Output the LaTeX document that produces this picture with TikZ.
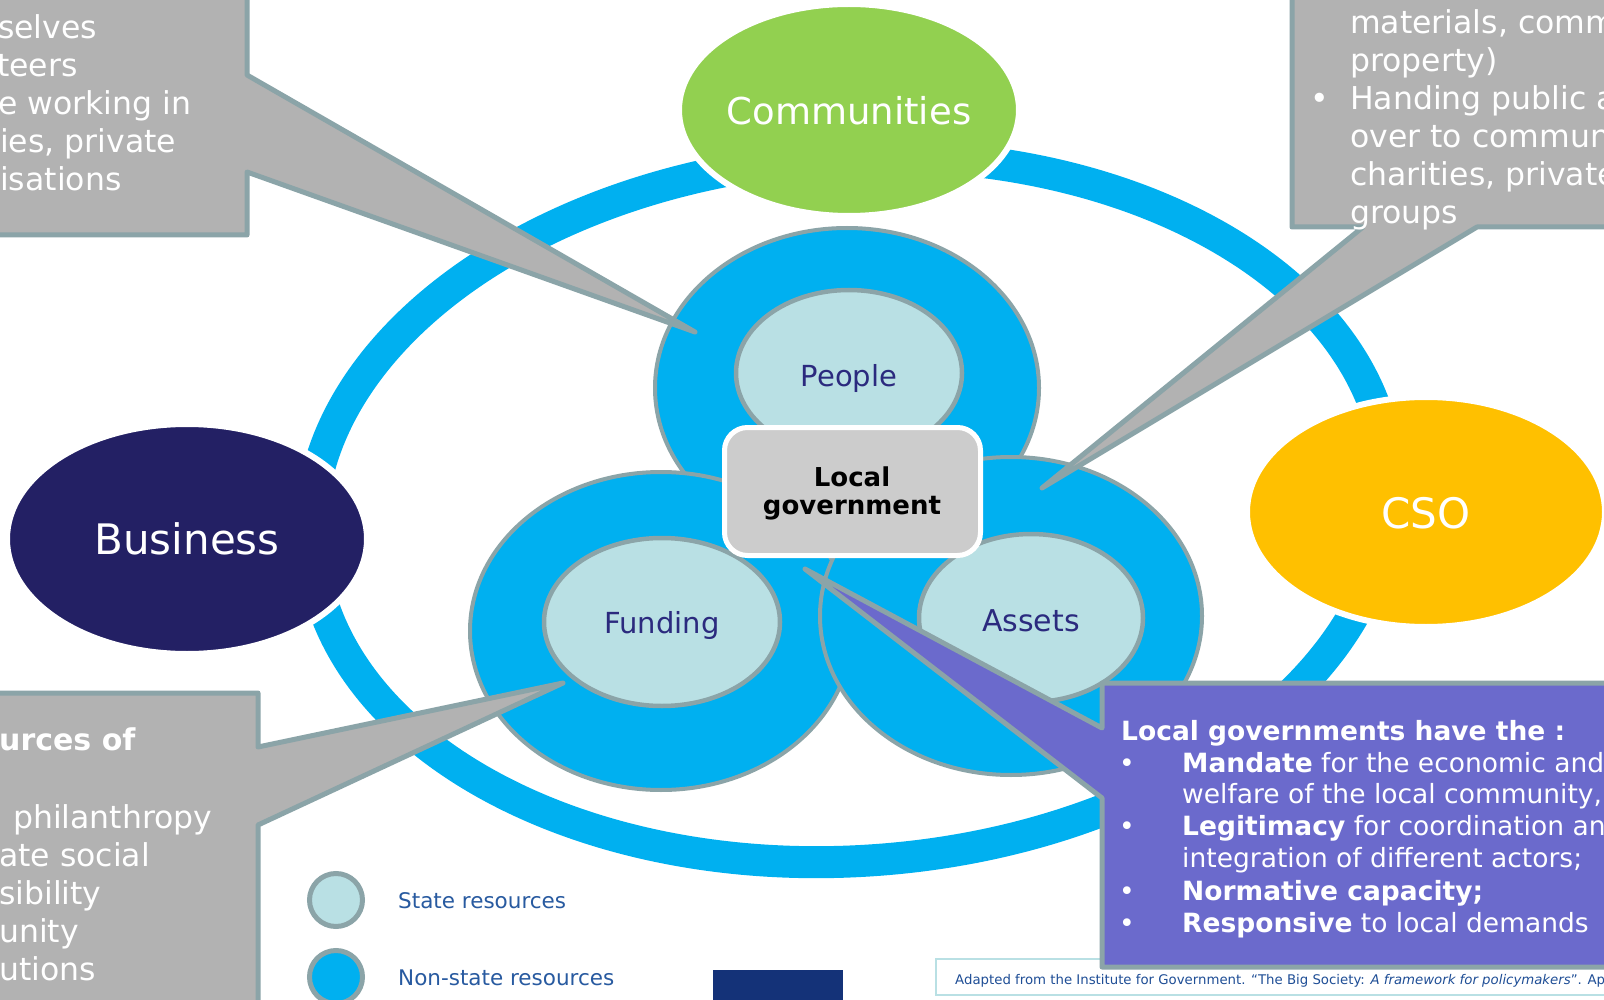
\documentclass[tikz,border=0pt]{standalone}
\usepackage{fontspec}
\setmainfont{DejaVu Sans}
\definecolor{ringblue}{RGB}{0,176,240}
\definecolor{lightst}{RGB}{185,224,228}
\definecolor{edgegray}{RGB}{139,164,168}
\definecolor{calgray}{RGB}{178,178,178}
\definecolor{lggray}{RGB}{204,204,204}
\definecolor{purp}{RGB}{107,106,204}
\definecolor{commgreen}{RGB}{146,208,80}
\definecolor{csoyellow}{RGB}{255,192,0}
\definecolor{busnavy}{RGB}{35,32,100}
\definecolor{labelblue}{RGB}{43,42,126}
\definecolor{legblue}{RGB}{40,90,160}
\definecolor{darkrect}{RGB}{20,50,120}
\definecolor{citeblue}{RGB}{31,78,150}
\tikzset{
  actor/.style={draw=white, line width=6},
  nonstate/.style={fill=ringblue, draw=edgegray, line width=4},
  state/.style={fill=lightst, draw=edgegray, line width=4.5},
  callout/.style={fill=calgray, draw=edgegray, line width=5, line join=round},
  purplecall/.style={fill=purp, draw=edgegray, line width=5, line join=round},
  bigtxt/.style={anchor=base, inner sep=0, text=white},
  restxt/.style={anchor=base, inner sep=0, text=labelblue, font=\fontsize{29}{34}\selectfont},
  caltxt/.style={anchor=base west, inner sep=0, text=white, font=\fontsize{31.5}{38}\selectfont},
  purtxt/.style={anchor=base west, inner sep=0, text=white, font=\fontsize{26.5}{32}\selectfont},
  legtxt/.style={anchor=base west, inner sep=0, text=legblue, font=\fontsize{21.5}{26}\selectfont}
}
\begin{document}
\begin{tikzpicture}[x=1pt,y=-1pt]
\useasboundingbox (0,0) rectangle (1604,1000);
\clip (0,0) rectangle (1604,1000);
\fill[white] (0,0) rectangle (1604,1000);

% big ring
\draw[ringblue, line width=32, rotate around={4:(850,509)}]
  (850,509) ellipse [x radius=540pt, y radius=352pt];

% actors
\filldraw[actor, fill=commgreen] (849,110) ellipse [x radius=170pt, y radius=106pt];
\filldraw[actor, fill=busnavy] (187,539) ellipse [x radius=180pt, y radius=115pt];
\filldraw[actor, fill=csoyellow] (1426,512) ellipse [x radius=179pt, y radius=115pt];
\node[bigtxt, font=\fontsize{37}{44}\selectfont] (commtxt) at (849,125) {Communities};
\node[bigtxt, font=\fontsize{42}{50}\selectfont] (bustxt) at (187,554) {Business};
\node[bigtxt, font=\fontsize{42}{50}\selectfont] (csotxt) at (1426,528) {CSO};

% non-state circles
\filldraw[nonstate] (847,388) ellipse [x radius=192pt, y radius=160pt];
\filldraw[nonstate] (661,631) ellipse [x radius=191pt, y radius=159pt];
\filldraw[nonstate] (1011,616) ellipse [x radius=191pt, y radius=159pt];

% state ellipses
\filldraw[state] (849,373) ellipse [x radius=113pt, y radius=83pt];
\filldraw[state] (662,622) ellipse [x radius=118pt, y radius=84pt];
\filldraw[state] (1031,618) ellipse [x radius=112pt, y radius=84pt];
\node[restxt] (people) at (849,386) {People};
\node[restxt] (funding) at (662,633) {Funding};
\node[restxt, font=\fontsize{30}{35}\selectfont] (assets) at (1031,631) {Assets};

% local government
\filldraw[fill=lggray, draw=white, line width=5, rounded corners=23pt]
  (724.5,427.5) rectangle (980.5,555.5);
\node[anchor=base, inner sep=0, font=\bfseries\fontsize{26}{29}\selectfont] (lg1) at (852,486) {Local};
\node[anchor=base, inner sep=0, font=\bfseries\fontsize{26}{29}\selectfont] (lg2) at (852,514) {government};

% legend
\filldraw[state, line width=5] (336,900) circle [radius=26.5pt];
\filldraw[nonstate, line width=5] (336,977) circle [radius=26.5pt];
\node[legtxt] (legstate) at (398,908) {State resources};
\node[legtxt] (legnon) at (398,985) {Non-state resources};

% dark rectangle
\fill[darkrect] (713,970) rectangle (843,1010);

% citation
\draw[lightst, line width=2] (936,959) rectangle (1630,995);
\node[anchor=base west, inner sep=0, text=citeblue, font=\fontsize{13.3}{16}\selectfont] (cite) at (955,984)
 {Adapted from the Institute for Government. “The Big Society: \textit{A framework for policymakers}”. Ap};

% callouts
\filldraw[callout] (-20,-20) -- (247,-20) -- (247,75) -- (695,332) -- (247,172) -- (247,235) -- (-20,235) -- cycle;
\node[caltxt] (tl1) at (-2,39) {selves};
\node[caltxt] (tl2) at (-3,77) {teers};
\node[caltxt] (tl3) at (-2,115) {e working in};
\node[caltxt] (tl4) at (0,153) {ies, private};
\node[caltxt] (tl5) at (0,191) {isations};

\filldraw[callout] (1292,-20) -- (1292,227) -- (1363,227) -- (1042,488) -- (1477,227) -- (1630,227) -- (1630,-20) -- cycle;
\node[caltxt] (tr1) at (1350,34) {materials, comm};
\node[caltxt] (tr2) at (1350,72) {property)};
\node[caltxt, anchor=base] (trb) at (1320,110) {•};
\node[caltxt] (tr3) at (1350,110) {Handing public a};
\node[caltxt] (tr4) at (1350,148) {over to commun};
\node[caltxt] (tr5) at (1350,186) {charities, private};
\node[caltxt] (tr6) at (1350,224) {groups};

\filldraw[callout] (-20,693) -- (258,693) -- (258,747) -- (563,683) -- (258,825) -- (258,1020) -- (-20,1020) -- cycle;
\node[caltxt, font=\bfseries\fontsize{30}{38}\selectfont] (bl1) at (-1,750) {urces of};
\node[caltxt] (bl2) at (13,828) {philanthropy};
\node[caltxt] (bl3) at (-1,866) {ate social};
\node[caltxt] (bl4) at (-1,904) {sibility};
\node[caltxt] (bl5) at (-1,942) {unity};
\node[caltxt] (bl6) at (-1,980) {utions};

\filldraw[purplecall] (1102,683) -- (1630,683) -- (1630,967) -- (1102,967) -- (1102,798) -- (805,569) -- (1102,728) -- cycle;
\node[purtxt, font=\bfseries\fontsize{26.5}{32}\selectfont] (p0) at (1121,740) {Local governments have the :};
\node[purtxt, anchor=base] (pb1) at (1127,772) {•};
\node[purtxt] (p1) at (1182,772) {\textbf{Mandate} for the economic and};
\node[purtxt] (p2) at (1182,803) {welfare of the local community,};
\node[purtxt, anchor=base] (pb2) at (1127,835) {•};
\node[purtxt] (p3) at (1182,835) {\textbf{Legitimacy} for coordination an};
\node[purtxt] (p4) at (1182,867) {integration of different actors;};
\node[purtxt, anchor=base] (pb3) at (1127,900) {•};
\node[purtxt] (p5) at (1182,900) {\textbf{Normative capacity;}};
\node[purtxt, anchor=base] (pb4) at (1127,932) {•};
\node[purtxt] (p6) at (1182,932) {\textbf{Responsive} to local demands};
\end{tikzpicture}
\end{document}
